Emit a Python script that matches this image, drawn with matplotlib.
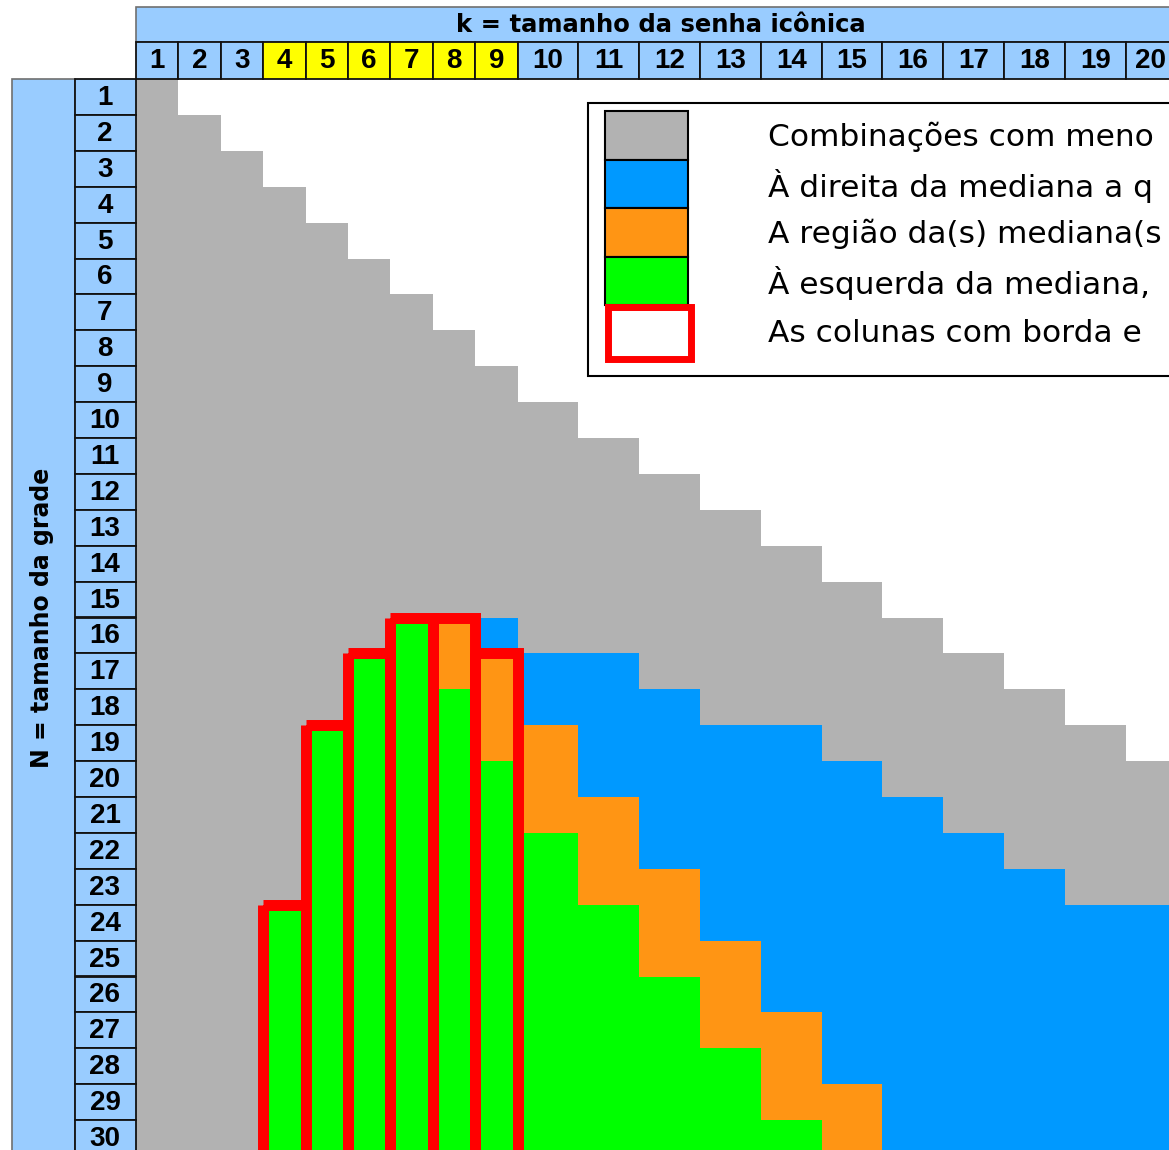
import numpy as np
import matplotlib
matplotlib.use('Agg')
import matplotlib.pyplot as plt
from matplotlib.colors import ListedColormap
from matplotlib.patches import Rectangle

# valores (0 = a cor nao aparece na coluna)
k_vals = list(range(1, 21))
n_vals = list(range(1, 31))
yellow_k = [4, 5, 6, 7, 8, 9]
blue_start = [0, 0, 0, 0, 0, 0, 0, 0, 16, 17, 17, 18, 19, 19, 20, 21, 22, 23, 24, 24]
orange_start = [0, 0, 0, 0, 0, 0, 0, 16, 17, 19, 21, 23, 25, 27, 29, 0, 0, 0, 0, 0]
green_start = [0, 0, 0, 24, 19, 17, 16, 18, 20, 22, 24, 26, 28, 30, 0, 0, 0, 0, 0, 0]
title_k = 'k = tamanho da senha icônica'
title_n = 'N = tamanho da grade'
# a imagem original corta a legenda na borda direita
legend_labels = [
    'Combinações com meno',
    'À direita da mediana a q',
    'A região da(s) mediana(s',
    'À esquerda da mediana,',
    'As colunas com borda e',
]

WHITE, GRAY, BLUE, ORANGE, GREEN = '#FFFFFF', '#B2B2B2', '#0099FF', '#FF9514', '#00FF00'
HEAD = '#99CCFF'
cmap = ListedColormap([WHITE, GRAY, BLUE, ORANGE, GREEN])

# categoria de cada celula
grid = np.zeros((len(n_vals), len(k_vals)))
for j, k in enumerate(k_vals):
    for i, n in enumerate(n_vals):
        if n < k:
            c = 0
        elif green_start[j] and n >= green_start[j]:
            c = 4
        elif orange_start[j] and n >= orange_start[j]:
            c = 3
        elif blue_start[j] and n >= blue_start[j]:
            c = 2
        else:
            c = 1
        grid[i, j] = c

fig = plt.figure(figsize=(11.69, 11.5), dpi=100)
ax = fig.add_axes([0, 0, 1, 1])
ax.set_xlim(0, 1169)
ax.set_ylim(1150, 0)
ax.axis('off')

x0, y0 = 136, 79
col_w = np.array([42.4 if k < 10 else 60.8 for k in k_vals])
x_edges = x0 + np.concatenate([[0], np.cumsum(col_w)])
row_h = 35.9
y_edges = y0 + row_h * np.arange(len(n_vals) + 1)

ax.pcolormesh(x_edges, y_edges, grid, cmap=cmap, vmin=-0.5, vmax=4.5,
              antialiased=False, edgecolors='none', zorder=1)

# bordas vermelhas das colunas recomendadas
for k in yellow_k:
    j = k - 1
    starts = [s for s in (orange_start[j], green_start[j]) if s]
    top = y_edges[min(starts) - 1]
    ax.add_patch(Rectangle((x_edges[j], top), col_w[j], y_edges[-1] + 30 - top,
                           fill=False, ec='#FF0000', lw=7.9, joinstyle='miter', zorder=3))

num_font = dict(family=['Liberation Sans', 'DejaVu Sans'], weight='bold', size=20)

# cabecalho de k
ax.add_patch(Rectangle((x0, 7), x_edges[-1] - x0, 35, fc=HEAD, ec='#707070', lw=1.2, zorder=2))
ax.text((x0 + x_edges[-1]) / 2, 25, title_k, ha='center', va='center',
        family='DejaVu Sans', weight='bold', size=17.5, zorder=4)
for j, k in enumerate(k_vals):
    fc = '#FFFF00' if k in yellow_k else HEAD
    ax.add_patch(Rectangle((x_edges[j], 42), col_w[j], y0 - 42, fc=fc, ec='#111111', lw=1.3, zorder=2))
    ax.text(x_edges[j] + col_w[j] / 2 - (5 if k == 20 else 0), 61, str(k),
            ha='center', va='center', zorder=4, **num_font)

# cabecalho de N
ax.add_patch(Rectangle((12, y0), 63, 1100, fc=HEAD, ec='#707070', lw=1.2, zorder=2))
ax.text(42, (y0 + y_edges[-1]) / 2, title_n, ha='center', va='center', rotation=90,
        family='DejaVu Sans', weight='bold', size=17, zorder=4)
for i, n in enumerate(n_vals):
    ax.add_patch(Rectangle((75, y_edges[i]), 61, row_h, fc=HEAD, ec='#111111', lw=1.3, zorder=2))
    ax.text(105, y_edges[i] + row_h / 2 + 1, str(n), ha='center', va='center', zorder=4, **num_font)

# legenda
ax.add_patch(Rectangle((588, 103), 800, 273, fc='white', ec='black', lw=1.5, zorder=5))
sw_colors = [GRAY, BLUE, ORANGE, GREEN]
sw_h = 48.5
for i, c in enumerate(sw_colors):
    ax.add_patch(Rectangle((605, 111 + i * sw_h), 83, sw_h, fc=c, ec='black', lw=1.5, zorder=6))
ax.add_patch(Rectangle((607.5, 306.5), 83, 52, fc='white', ec='#FF0000', lw=5, joinstyle='miter', zorder=6))
text_y = [113 + (i + 0.5) * sw_h for i in range(4)] + [334]
for lab, ty in zip(legend_labels, text_y):
    ax.text(768, ty, lab, ha='left', va='center', family='DejaVu Sans', size=22.5,
            color='black', zorder=7, clip_on=True)

fig.savefig('out.png', dpi=100)
